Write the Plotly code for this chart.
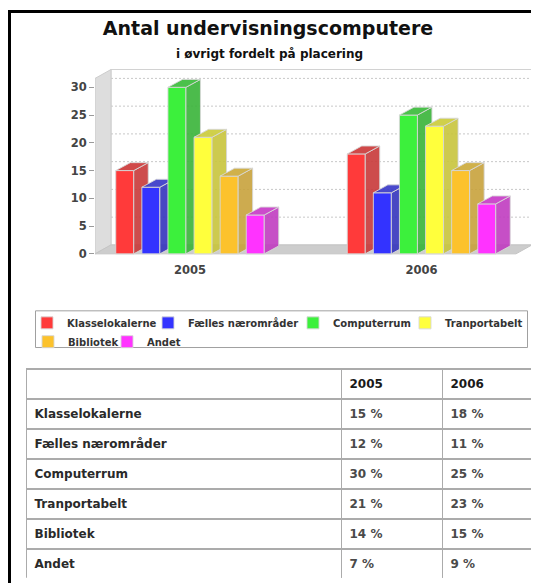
import plotly.graph_objects as go

# ---------------- data ----------------
years = ["2005", "2006"]
categories = ["Klasselokalerne", "Fælles nærområder", "Computerrum",
              "Tranportabelt", "Bibliotek", "Andet"]
values_2005 = [15, 12, 30, 21, 14, 7]
values_2006 = [18, 11, 25, 23, 15, 9]
y_ticks = [0, 5, 10, 15, 20, 25, 30]

front_colors = ["#ff3a3a", "#3333ff", "#3cf03c", "#ffff3c", "#fcc22c", "#ff33ff"]
side_colors = ["rgba(200,56,56,0.9)", "rgba(52,52,188,0.9)", "rgba(56,180,56,0.9)",
               "rgba(200,196,60,0.9)", "rgba(200,162,60,0.9)", "rgba(192,60,192,0.9)"]
top_colors = ["rgba(204,58,58,0.92)", "rgba(58,58,200,0.92)", "rgba(60,188,60,0.92)",
              "rgba(204,204,60,0.92)", "rgba(204,170,60,0.92)", "rgba(200,60,200,0.92)"]

# the page body has an 8px margin, so the figure is 8px smaller and
# reference pixel positions are shifted by 8px
OFF = 8
W, H = 539 - OFF, 583 - OFF
FONT = "DejaVu Sans"


def fx(px):
    return (px - OFF) / W


def fy(py):
    return 1 - (py - OFF) / H


# ---------------- pseudo-3D geometry (layout constants, reference pixels) ----------------
X_PX0, X_UNIT = 190.0, 231.5      # pixel of first group centre, pixels per group
Y_PX0, Y_UNIT = 256.0, 5.6        # pixel of value 0, pixels per unit
PX_L, PX_R, PX_T, PX_B = 95.0, 535.0, 66.0, 258.0

xr = [(PX_L - X_PX0) / X_UNIT, (PX_R - X_PX0) / X_UNIT]
yr = [(Y_PX0 - PX_B) / Y_UNIT, (Y_PX0 - PX_T) / Y_UNIT]
xdom = [fx(PX_L), fx(PX_R)]
ydom = [fy(PX_B), fy(PX_T)]

BAR_STEP = 26.1 / X_UNIT
BAR_W = 18.0 / X_UNIT
BAR_DX, BAR_DY = 14.5 / X_UNIT, 8.0 / Y_UNIT
WALL_DX, WALL_DY = 16.0 / X_UNIT, 9.0 / Y_UNIT
WALL_TOP = 31.6
X_LEFT = xr[0]
X_RIGHT_FRONT = (516.0 - X_PX0) / X_UNIT

group_pos = list(range(len(years)))
series = [list(v) for v in zip(values_2005, values_2006)]

fig = go.Figure()

# back wall
bx0, bx1 = X_LEFT + WALL_DX, X_RIGHT_FRONT + WALL_DX
fig.add_trace(go.Scatter(
    x=[bx0, bx1, bx1, bx0, bx0],
    y=[WALL_DY, WALL_DY, WALL_TOP + WALL_DY, WALL_TOP + WALL_DY, WALL_DY],
    mode="lines", fill="toself", fillcolor="white",
    line=dict(color="#d2d2d2", width=1), hoverinfo="skip", showlegend=False))

# grid lines on the back wall
gx, gy = [], []
for v in y_ticks[1:]:
    gx += [bx0, bx1, None]
    gy += [v + WALL_DY, v + WALL_DY, None]
fig.add_trace(go.Scatter(x=gx, y=gy, mode="lines",
                         line=dict(color="#c8c8c8", width=1, dash="2px,2px"),
                         hoverinfo="skip", showlegend=False))

# left wall
fig.add_trace(go.Scatter(
    x=[X_LEFT, X_LEFT + WALL_DX, X_LEFT + WALL_DX, X_LEFT, X_LEFT],
    y=[0, WALL_DY, WALL_TOP + WALL_DY, WALL_TOP, 0],
    mode="lines", fill="toself", fillcolor="#dddddd",
    line=dict(color="#cccccc", width=1), hoverinfo="skip", showlegend=False))

# floor
fig.add_trace(go.Scatter(
    x=[X_LEFT, X_RIGHT_FRONT, X_RIGHT_FRONT + WALL_DX, X_LEFT + WALL_DX, X_LEFT],
    y=[0, 0, WALL_DY, WALL_DY, 0],
    mode="lines", fill="toself", fillcolor="#cdcdcd",
    line=dict(color="#c4c4c4", width=1), hoverinfo="skip", showlegend=False))

edge = dict(color="rgba(215,215,215,0.9)", width=1)

# legend layout: first four entries on row 1, the rest on row 2
legend_rows = ["legend", "legend", "legend", "legend", "legend2", "legend2"]
legend_widths = [76, 100, 67, 85, 34, 40]

for k, (cat, vals) in enumerate(zip(categories, series)):
    xa, ya = f"x{k + 2}", f"y{k + 2}"
    off = (k - (len(categories) - 1) / 2) * BAR_STEP
    xs = [g + off for g in group_pos]
    fig.add_trace(go.Bar(
        x=xs, y=vals, width=BAR_W, name=cat, xaxis=xa, yaxis=ya,
        legend=legend_rows[k], legendwidth=legend_widths[k],
        marker=dict(color=front_colors[k], line=edge),
        hovertemplate="%{y} %<extra>" + cat + "</extra>"))
    sx, sy, tx, ty = [], [], [], []
    for x, v in zip(xs, vals):
        xl, xrt = x - BAR_W / 2, x + BAR_W / 2
        sx += [xrt, xrt + BAR_DX, xrt + BAR_DX, xrt, xrt, None]
        sy += [0, BAR_DY, v + BAR_DY, v, 0, None]
        tx += [xl, xl + BAR_DX, xrt + BAR_DX, xrt, xl, None]
        ty += [v, v + BAR_DY, v + BAR_DY, v, v, None]
    fig.add_trace(go.Scatter(x=sx, y=sy, xaxis=xa, yaxis=ya, mode="lines",
                             fill="toself", fillcolor=side_colors[k], line=edge,
                             hoverinfo="skip", showlegend=False))
    fig.add_trace(go.Scatter(x=tx, y=ty, xaxis=xa, yaxis=ya, mode="lines",
                             fill="toself", fillcolor=top_colors[k], line=edge,
                             hoverinfo="skip", showlegend=False))
    fig.layout[f"xaxis{k + 2}"] = dict(overlaying="x", range=xr, visible=False,
                                       anchor=f"y{k + 2}", fixedrange=True)
    fig.layout[f"yaxis{k + 2}"] = dict(overlaying="y", range=yr, visible=False,
                                       anchor=f"x{k + 2}", fixedrange=True)

# table
fig.add_trace(go.Table(
    domain=dict(x=[fx(26.5), 1], y=[0, fy(372)]),
    columnwidth=[315, 101, 96],
    header=dict(values=[""] + [f"<b>{y}</b>" for y in years],
                height=30, align="left", fill_color="white",
                line=dict(color="#ababab", width=1.5),
                font=dict(family=FONT, size=12, color="#1a1a1a")),
    cells=dict(values=[[f"<b>{c}</b>" for c in categories],
                       [f"<b>{v} %</b>" for v in values_2005],
                       [f"<b>{v} %</b>" for v in values_2006]],
               height=29.5, align="left", fill_color="white",
               line=dict(color="#ababab", width=1.5),
               font=dict(family=FONT, size=12,
                         color=["#2a2a2a", "#4a4a4a", "#4a4a4a"]))))

legend_font = dict(family=FONT, size=10, color="#333333", weight="bold")

fig.update_layout(
    width=W, height=H, autosize=False,
    margin=dict(l=0, r=0, t=0, b=0),
    paper_bgcolor="white", plot_bgcolor="rgba(0,0,0,0)",
    showlegend=True,
    title=dict(text="<b>Antal undervisningscomputere</b>", x=fx(268), xanchor="center",
               y=fy(28), yanchor="middle",
               font=dict(family=FONT, size=19, color="#111111")),
    xaxis=dict(domain=xdom, range=xr, tickvals=group_pos, ticktext=years,
               showgrid=False, zeroline=False, showline=False,
               ticks="outside", ticklen=3, tickcolor="rgba(0,0,0,0)",
               tickfont=dict(family=FONT, size=11.5, color="#444444", weight="bold"),
               fixedrange=True),
    yaxis=dict(domain=ydom, range=yr, tickvals=y_ticks,
               showgrid=False, zeroline=False, showline=False,
               ticks="outside", ticklen=5, tickcolor="#9a9a9a",
               tickfont=dict(family=FONT, size=11.5, color="#444444", weight="bold"),
               fixedrange=True),
    legend=dict(orientation="h", x=fx(27), xanchor="left", y=fy(311), yanchor="top",
                bgcolor="rgba(0,0,0,0)", borderwidth=0, font=legend_font,
                itemwidth=30, traceorder="normal"),
    legend2=dict(orientation="h", x=fx(28), xanchor="left", y=fy(330), yanchor="top",
                 bgcolor="rgba(0,0,0,0)", borderwidth=0, font=legend_font,
                 itemwidth=30, traceorder="normal"),
    annotations=[dict(text="<b>i øvrigt fordelt på placering</b>", x=fx(269), y=fy(54),
                      xref="paper", yref="paper", showarrow=False,
                      xanchor="center", yanchor="middle",
                      font=dict(family=FONT, size=12, color="#111111"))],
    shapes=[
        # outer frame (left and top edges visible)
        dict(type="rect", xref="paper", yref="paper",
             x0=fx(9.5), x1=1.05, y0=-0.05, y1=fy(11.5),
             line=dict(color="black", width=3), fillcolor="rgba(0,0,0,0)"),
        # legend box
        dict(type="rect", xref="paper", yref="paper",
             x0=fx(35.5), x1=fx(527.5), y0=fy(350.5), y1=fy(313.5),
             line=dict(color="#a0a0a0", width=1), fillcolor="rgba(0,0,0,0)"),
    ],
)

fig.write_html("out.html")
